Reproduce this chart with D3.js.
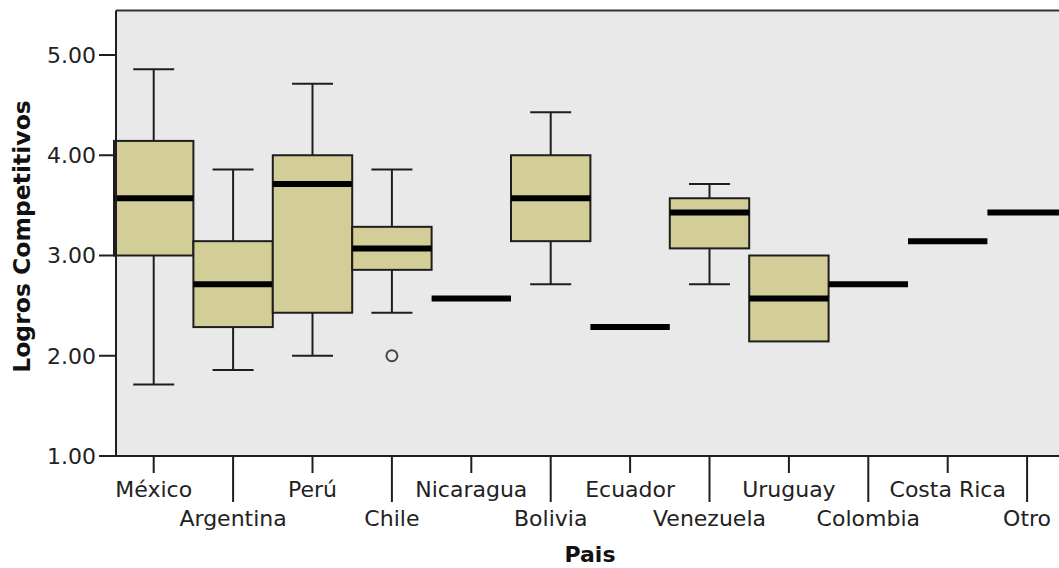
<!DOCTYPE html>
<html><head><meta charset="utf-8">
<script src="https://cdn.jsdelivr.net/npm/d3@7"></script>
<style>
html,body{margin:0;padding:0;background:#fff;}
svg{display:block;font-family:"DejaVu Sans",Verdana,sans-serif;}
</style></head>
<body>
<svg id="chart" width="1059" height="568"></svg>
<script>
const categories = ["México","Argentina","Perú","Chile","Nicaragua","Bolivia","Ecuador","Venezuela","Uruguay","Colombia","Costa Rica","Otro"];
const whiskerHigh = [4.857, 3.857, 4.714, 3.857, null, 4.429, null, 3.714, null, null, null, null];
const q3Values    = [4.143, 3.143, 4.000, 3.286, null, 4.000, null, 3.571, 3.000, null, null, null];
const medians     = [3.571, 2.714, 3.714, 3.071, 2.571, 3.571, 2.286, 3.429, 2.571, 2.714, 3.143, 3.429];
const q1Values    = [3.000, 2.286, 2.429, 2.857, null, 3.143, null, 3.071, 2.143, null, null, null];
const whiskerLow  = [1.714, 1.857, 2.000, 2.429, null, 2.714, null, 2.714, null, null, null, null];
const outlierCats = ["Chile"];
const outlierVals = [2.0];
const yTicks = [1, 2, 3, 4, 5];
const yTitle = "Logros Competitivos";
const xTitle = "Pais";

(function () {
const svg = d3.select("#chart");
const left = 116, bottom = 456, right = 1075;
const yMax = 5.445;

const x = d3.scaleBand().domain(categories).range([114, 114 + 12 * 79.4]).paddingInner(0).paddingOuter(0);
const y = d3.scaleLinear().domain([1, yMax]).range([bottom, bottom - (yMax - 1) * 100.25]);

svg.append("rect").attr("x", left).attr("y", y(yMax)).attr("width", right - left).attr("height", bottom - y(yMax))
  .attr("fill", "#e9e9e9");

const bw = x.bandwidth();
const capW = 41;
const g = svg.append("g");

categories.forEach((c, i) => {
  const x0 = x(c), xc = x0 + bw / 2;
  if (whiskerHigh[i] != null && q3Values[i] != null) {
    g.append("line").attr("x1", xc).attr("x2", xc).attr("y1", y(whiskerHigh[i])).attr("y2", y(q3Values[i]))
      .attr("stroke", "#1e1e1e").attr("stroke-width", 2);
    g.append("line").attr("x1", xc - capW / 2).attr("x2", xc + capW / 2).attr("y1", y(whiskerHigh[i])).attr("y2", y(whiskerHigh[i]))
      .attr("stroke", "#1e1e1e").attr("stroke-width", 2);
  }
  if (whiskerLow[i] != null && q1Values[i] != null) {
    g.append("line").attr("x1", xc).attr("x2", xc).attr("y1", y(q1Values[i])).attr("y2", y(whiskerLow[i]))
      .attr("stroke", "#1e1e1e").attr("stroke-width", 2);
    g.append("line").attr("x1", xc - capW / 2).attr("x2", xc + capW / 2).attr("y1", y(whiskerLow[i])).attr("y2", y(whiskerLow[i]))
      .attr("stroke", "#1e1e1e").attr("stroke-width", 2);
  }
  if (q1Values[i] != null && q3Values[i] != null) {
    g.append("rect").attr("x", x0).attr("y", y(q3Values[i])).attr("width", bw).attr("height", y(q1Values[i]) - y(q3Values[i]))
      .attr("fill", "#d3ce97").attr("stroke", "#1e1e1e").attr("stroke-width", 2);
  }
  g.append("line").attr("x1", x0).attr("x2", x0 + bw).attr("y1", y(medians[i])).attr("y2", y(medians[i]))
    .attr("stroke", "#000").attr("stroke-width", 6);
});

outlierCats.forEach((c, i) => {
  g.append("circle").attr("cx", x(c) + bw / 2).attr("cy", y(outlierVals[i])).attr("r", 5.5)
    .attr("fill", "none").attr("stroke", "#444").attr("stroke-width", 2);
});

svg.append("line").attr("x1", left).attr("x2", right).attr("y1", y(yMax)).attr("y2", y(yMax)).attr("stroke", "#333").attr("stroke-width", 2);
svg.append("line").attr("x1", left).attr("x2", left).attr("y1", y(yMax)).attr("y2", bottom).attr("stroke", "#1e1e1e").attr("stroke-width", 2);
svg.append("line").attr("x1", left).attr("x2", right).attr("y1", bottom).attr("y2", bottom).attr("stroke", "#1e1e1e").attr("stroke-width", 2);

const ya = svg.append("g");
yTicks.forEach(t => {
  ya.append("line").attr("x1", 99).attr("x2", left).attr("y1", y(t)).attr("y2", y(t)).attr("stroke", "#1e1e1e").attr("stroke-width", 2);
  ya.append("text").attr("x", 96).attr("y", y(t)).attr("dy", "0.36em").attr("text-anchor", "end")
    .attr("font-size", 22).attr("fill", "#222").text(d3.format(".2f")(t));
});

const xa = svg.append("g");
categories.forEach((c, i) => {
  const xc = x(c) + bw / 2;
  const long = i % 2 === 1;
  xa.append("line").attr("x1", xc).attr("x2", xc).attr("y1", bottom).attr("y2", bottom + (long ? 46 : 17))
    .attr("stroke", "#1e1e1e").attr("stroke-width", 2);
  xa.append("text").attr("x", xc).attr("y", long ? 526 : 496.5).attr("text-anchor", "middle")
    .attr("font-size", 22).attr("fill", "#222").text(c);
});

svg.append("text").attr("transform", "translate(30,236.5) rotate(-90)").attr("text-anchor", "middle")
  .attr("font-size", 23.5).attr("font-weight", "bold").attr("fill", "#111").text(yTitle);
svg.append("text").attr("x", 590).attr("y", 562).attr("text-anchor", "middle")
  .attr("font-size", 22).attr("font-weight", "bold").attr("fill", "#111").text(xTitle);
})();
</script>
</body></html>
